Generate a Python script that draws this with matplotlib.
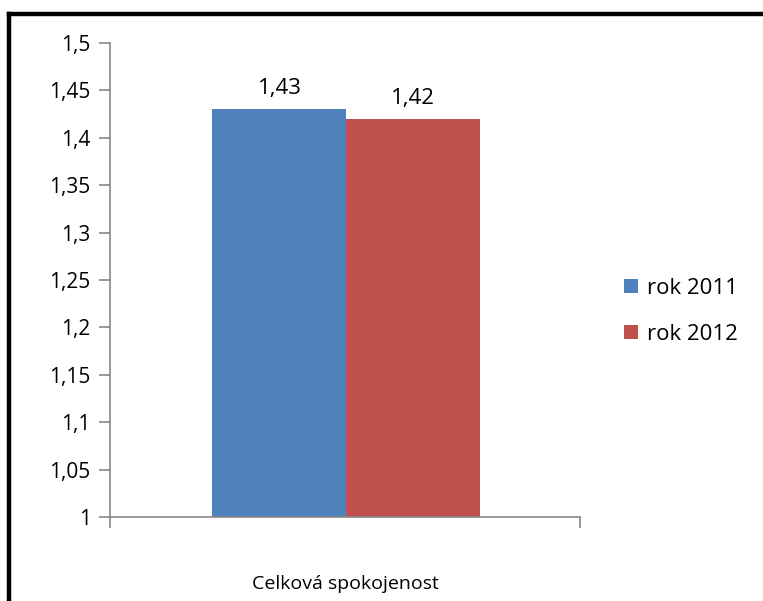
import matplotlib.pyplot as plt
from matplotlib.lines import Line2D

categories = ['Celková spokojenost']
series = ['rok 2011', 'rok 2012']
values = [1.43, 1.42]
value_labels = ['1,43', '1,42']
colors = ['#4F81BD', '#C0504D']
yticks = [1.0, 1.05, 1.1, 1.15, 1.2, 1.25, 1.3, 1.35, 1.4, 1.45, 1.5]
ytick_labels = ['1', '1,05', '1,1', '1,15', '1,2', '1,25', '1,3', '1,35', '1,4', '1,45', '1,5']

plt.rcParams['font.family'] = ['Open Sans', 'DejaVu Sans']

fig = plt.figure(figsize=(7.63, 6.01), dpi=100)
ax = fig.add_axes([0.1442, 0.1398, 0.6158, 0.7887])

width = 0.285
offsets = [-width / 2 + 0.003, width / 2 + 0.003]
for i, name in enumerate(series):
    ax.bar(offsets[i], values[i], width=width, color=colors[i], label=name, zorder=2)
    ax.text(offsets[i], values[i] + 0.0105, value_labels[i], ha='center', va='bottom',
            fontsize=16, color='black')

ax.set_xlim(-0.5, 0.5)
ax.set_ylim(1.0, 1.5)
ax.set_yticks(yticks)
ax.set_yticklabels(ytick_labels)
ax.set_xticks([0])
ax.set_xticklabels(categories)
ax.set_xticks([-0.5, 0.5], minor=True)

axis_grey = '#868686'
for side in ['top', 'right']:
    ax.spines[side].set_visible(False)
for side in ['left', 'bottom']:
    ax.spines[side].set_color(axis_grey)
    ax.spines[side].set_linewidth(1.2)

ax.tick_params(axis='y', direction='out', length=8, width=1.2, color=axis_grey,
               labelsize=15, pad=6)
ax.tick_params(axis='x', which='major', length=0, labelsize=14, pad=42)
ax.tick_params(axis='x', which='minor', direction='out', length=8, width=1.2,
               color=axis_grey)

leg = ax.legend(loc='center left', bbox_to_anchor=(1.052, 0.434), frameon=False,
                fontsize=16, handlelength=0.6, handleheight=0.6,
                handletextpad=0.4, labelspacing=1.12)

# black frame along the top and left edge
fig.add_artist(Line2D([0.0118, 1.0], [0.9767, 0.9767], color='black', lw=3.2,
                      transform=fig.transFigure))
fig.add_artist(Line2D([0.0118, 0.0118], [0.0, 0.9767], color='black', lw=3.2,
                      transform=fig.transFigure))

fig.savefig('out.png', dpi=100)
